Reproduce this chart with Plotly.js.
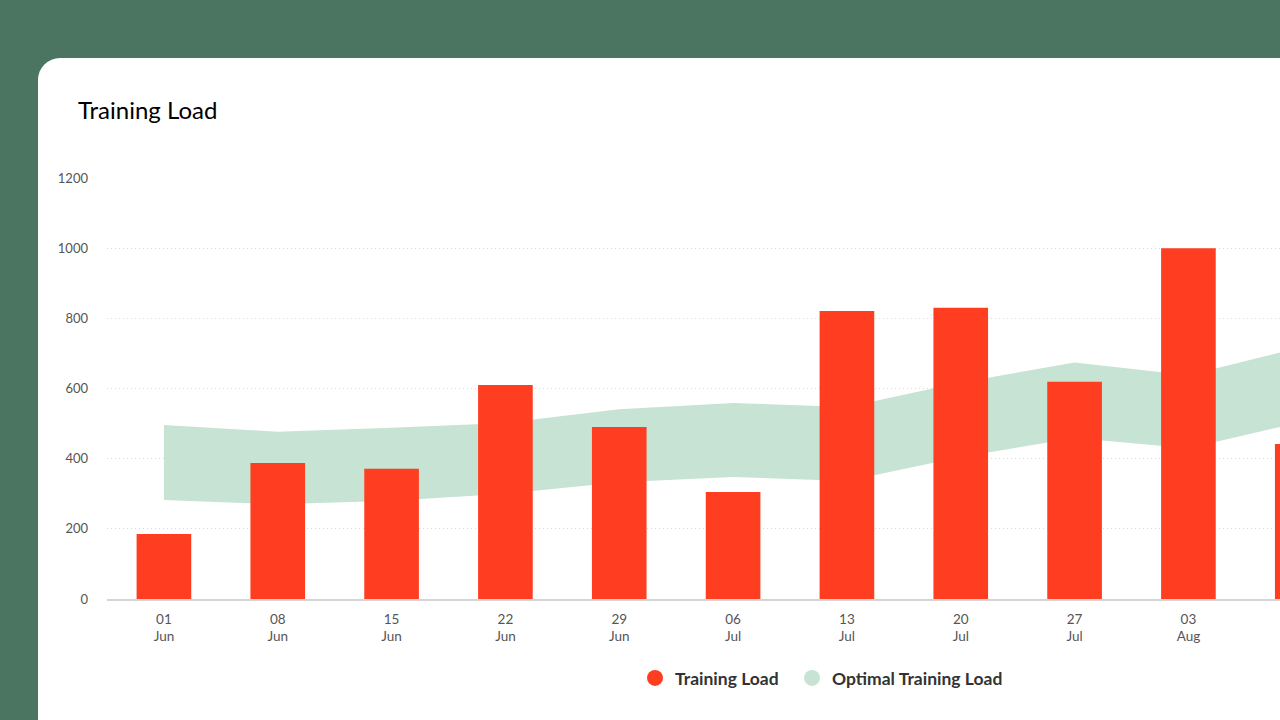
<!DOCTYPE html>
<html>
<head>
<meta charset="utf-8">
<script src="https://cdn.plot.ly/plotly-3.0.1.min.js"></script>
<style>
  html, body { margin: 0; padding: 0; width: 1280px; height: 720px; overflow: hidden; background: #4b7461; }
  #card { position: absolute; left: 38px; top: 58px; width: 1320px; height: 720px; background: #ffffff; border-radius: 22px; overflow: hidden; }
  #chart { position: absolute; left: 0; top: 0; width: 1455px; height: 662px; }
</style>
</head>
<body>
<div id="card"><div id="chart"></div></div>
<script>
// Data
const weeks = ['01 Jun', '08 Jun', '15 Jun', '22 Jun', '29 Jun', '06 Jul', '13 Jul', '20 Jul', '27 Jul', '03 Aug', '10 Aug'];
const trainingLoad = [185, 388, 371, 610, 490, 305, 821, 830, 619, 1000, 442];
const optimalUpper = [496, 477, 488, 502, 541, 559, 547, 617, 674, 638, 718];
const optimalLower = [282, 270, 280, 300, 333, 348, 336, 405, 459, 430, 505];
const labelledWeeks = ['01 Jun', '08 Jun', '15 Jun', '22 Jun', '29 Jun', '06 Jul', '13 Jul', '20 Jul', '27 Jul', '03 Aug'];
const yTicks = [0, 200, 400, 600, 800, 1000, 1200];

const tickText = labelledWeeks.map(w => w.replace(' ', '<br>'));
const barColor = '#ff3d20';
const bandColor = '#c6e3d4';
const font = 'Lato, "Open Sans", sans-serif';

const traces = [
  { type: 'scatter', x: weeks, y: optimalLower, mode: 'lines', line: { width: 0, color: bandColor },
    showlegend: false, hoverinfo: 'skip', xaxis: 'x', yaxis: 'y' },
  { type: 'scatter', x: weeks, y: optimalUpper, mode: 'lines', line: { width: 0, color: bandColor },
    fill: 'tonexty', fillcolor: bandColor, showlegend: false, hoverinfo: 'skip', xaxis: 'x', yaxis: 'y' },
  { type: 'bar', x: weeks, y: trainingLoad, width: 0.48, marker: { color: barColor, line: { width: 0 } },
    showlegend: false, xaxis: 'x', yaxis: 'y2' },
  // legend entries
  { type: 'scatter', mode: 'markers', x: [null], y: [null], name: 'Training Load', legend: 'legend',
    marker: { color: barColor, size: 16, symbol: 'circle' }, xaxis: 'x', yaxis: 'y2' },
  { type: 'scatter', mode: 'markers', x: [null], y: [null], name: 'Optimal Training Load', legend: 'legend2',
    marker: { color: bandColor, size: 16, symbol: 'circle' }, xaxis: 'x', yaxis: 'y2' }
];

const legendBase = {
  orientation: 'h', xanchor: 'left', y: (599 - 678) / 421, yanchor: 'middle',
  font: { family: font, size: 17.5, color: '#333333', weight: 'bold' },
  itemwidth: 30, itemsizing: 'trace', bgcolor: 'rgba(0,0,0,0)'
};

const layout = {
  width: 1455, height: 662,
  margin: { l: 69, r: 20, t: 120, b: 121 },
  paper_bgcolor: 'rgba(0,0,0,0)', plot_bgcolor: 'rgba(0,0,0,0)',
  font: { family: font, color: '#555555', size: 13 },
  title: { text: 'Training Load', x: 40 / 1455, xanchor: 'left', xref: 'container',
           y: 1 - 53 / 662, yanchor: 'middle', yref: 'container',
           font: { family: font, size: 24, color: '#000000' } },
  xaxis: { type: 'category', categoryorder: 'array', categoryarray: weeks,
           range: [-0.5, 11.5], tickmode: 'array', tickvals: labelledWeeks, ticktext: tickText,
           showgrid: false, showline: true, linecolor: '#d4d4d4', linewidth: 1.5,
           ticks: '', ticklabelstandoff: 7,
           tickfont: { family: font, size: 13.5, color: '#555555' }, fixedrange: true },
  yaxis: { range: [0, 1200], tickmode: 'array', tickvals: yTicks,
           showgrid: true, gridcolor: '#d9d9d9', griddash: '1px,3px', gridwidth: 1,
           zeroline: false, showline: false, ticks: '', ticklabelstandoff: 18,
           tickfont: { family: font, size: 13, color: '#555555' }, fixedrange: true },
  yaxis2: { range: [0, 1200], overlaying: 'y', visible: false, showgrid: false, zeroline: false, fixedrange: true },
  showlegend: true,
  legend: Object.assign({}, legendBase, { x: (635 - 107) / 1366 }),
  legend2: Object.assign({}, legendBase, { x: (792 - 107) / 1366 }),
  bargap: 0.52
};

Plotly.newPlot('chart', traces, layout, { staticPlot: true, displayModeBar: false, responsive: false });
</script>
</body>
</html>
